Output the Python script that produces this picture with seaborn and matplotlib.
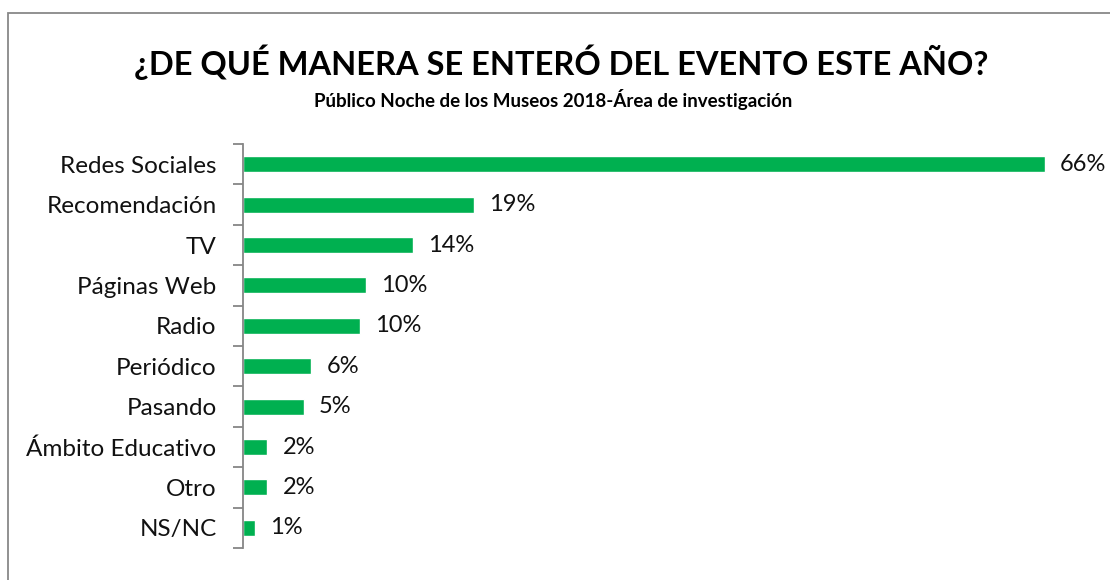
import numpy as np
import matplotlib.pyplot as plt
import seaborn as sns
from matplotlib.patches import Rectangle

categories = ["Redes Sociales", "Recomendación", "TV", "Páginas Web", "Radio",
              "Periódico", "Pasando", "Ámbito Educativo", "Otro", "NS/NC"]
values = [66.0, 19.0, 14.0, 10.1, 9.6, 5.6, 5.0, 2.0, 2.0, 1.0]
labels = ["66%", "19%", "14%", "10%", "10%", "6%", "5%", "2%", "2%", "1%"]

title = "¿DE QUÉ MANERA SE ENTERÓ DEL EVENTO ESTE AÑO?"
subtitle = "Público Noche de los Museos 2018-Área de investigación"

sns.set_style("white")
plt.rcParams["font.family"] = ["Lato", "DejaVu Sans"]

W, H = 1110, 580
fig = plt.figure(figsize=(W / 100, H / 100), dpi=100)
ax = fig.add_axes([243 / W, 1 - 548 / H, (70 * 12.15) / W, (548 - 144) / H])

sns.barplot(x=values, y=categories, orient="h", color="#00B050", width=0.4,
            saturation=1, ax=ax)
ax.set_xlim(0, 70)
ax.set_ylim(9.5, -0.5)

ax.bar_label(ax.containers[0], labels=labels, padding=11, fontsize=17, color="#111111")

for s in ["top", "right", "bottom"]:
    ax.spines[s].set_visible(False)
ax.spines["left"].set_color("#868686")
ax.spines["left"].set_linewidth(1.3)
ax.set_xticks([])
ax.set_yticks(np.arange(-0.5, 10, 1), minor=True)
ax.tick_params(axis="y", which="major", length=0, pad=19, labelsize=17.5, labelcolor="#111111")
ax.tick_params(axis="y", which="minor", length=7, width=1.3, color="#868686", left=True)
ax.set_xlabel("")
ax.set_ylabel("")

fig.text(561 / W, 1 - 62 / H, title, ha="center", va="center", fontsize=23.5,
         fontweight="bold", color="#000000")
fig.text(553 / W, 1 - 100 / H, subtitle, ha="center", va="center", fontsize=13.5,
         fontweight="bold", color="#000000")

fig.patches.append(Rectangle((8 / W, -0.1), 1.2, 1 - 13 / H + 0.1, transform=fig.transFigure,
                             fill=False, edgecolor="#888888", linewidth=1.3))

fig.savefig("out.png", dpi=100)
